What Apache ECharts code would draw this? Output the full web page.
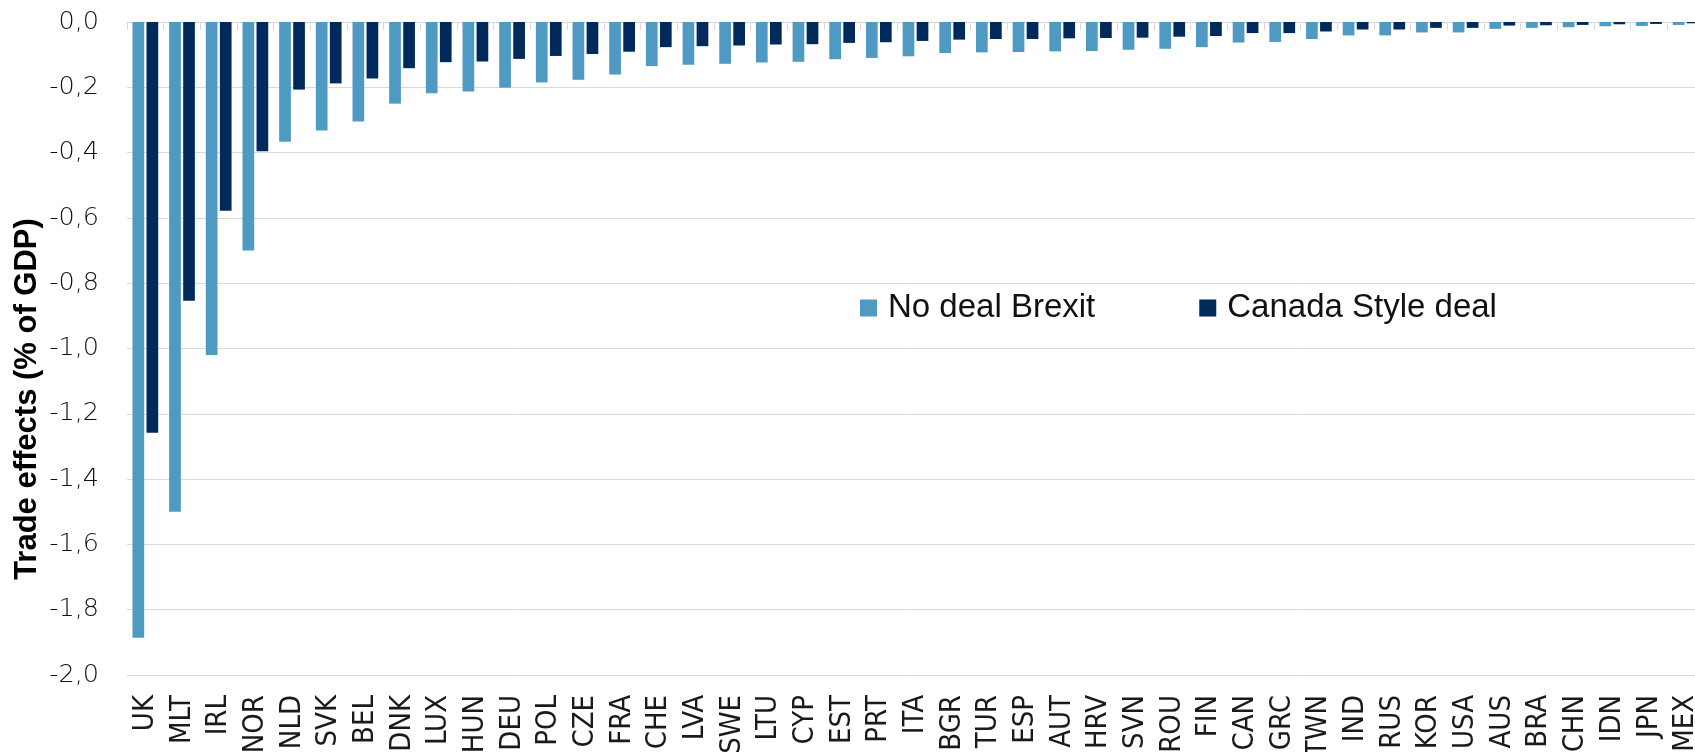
<!DOCTYPE html>
<html>
<head>
<meta charset="utf-8">
<script src="https://cdn.jsdelivr.net/npm/echarts@6/dist/echarts.min.js"></script>
<style>
html,body{margin:0;padding:0;background:#fff;}
#chart{width:1695px;height:752px;}
</style>
</head>
<body>
<div id="chart"></div>
<script>
const categories = ['UK','MLT','IRL','NOR','NLD','SVK','BEL','DNK','LUX','HUN','DEU','POL','CZE','FRA','CHE','LVA','SWE','LTU','CYP','EST','PRT','ITA','BGR','TUR','ESP','AUT','HRV','SVN','ROU','FIN','CAN','GRC','TWN','IND','RUS','KOR','USA','AUS','BRA','CHN','IDN','JPN','MEX'];
const noDealBrexit = [-1.886,-1.50,-1.02,-0.70,-0.367,-0.332,-0.305,-0.250,-0.218,-0.213,-0.201,-0.185,-0.177,-0.161,-0.135,-0.131,-0.128,-0.124,-0.122,-0.114,-0.110,-0.105,-0.095,-0.093,-0.092,-0.090,-0.089,-0.085,-0.082,-0.077,-0.063,-0.061,-0.052,-0.041,-0.041,-0.032,-0.032,-0.021,-0.018,-0.016,-0.013,-0.012,-0.009];
const canadaStyleDeal = [-1.258,-0.854,-0.578,-0.396,-0.207,-0.188,-0.173,-0.1415,-0.123,-0.121,-0.113,-0.104,-0.098,-0.091,-0.077,-0.074,-0.072,-0.069,-0.068,-0.064,-0.062,-0.058,-0.054,-0.052,-0.052,-0.050,-0.049,-0.048,-0.045,-0.043,-0.034,-0.034,-0.029,-0.023,-0.023,-0.018,-0.018,-0.011,-0.010,-0.009,-0.007,-0.006,-0.004];
const seriesNames = ['No deal Brexit','Canada Style deal'];
const yTitle = 'Trade effects (% of GDP)';
const yMin = -2.0, yMax = 0.0, yStep = 0.2;

const chart = echarts.init(document.getElementById('chart'), null, {renderer:'canvas'});
const gridColor = '#d9d9d9';
const labelFont = "'Liberation Sans Narrow','DejaVu Sans Condensed','Liberation Sans',sans-serif";
chart.setOption({
  animation:false,
  backgroundColor:'#ffffff',
  grid:{left:127, right:-9, top:22, bottom:77, containLabel:false, outerBoundsMode:'none'},
  legend:{
    left:860, top:290, itemWidth:17, itemHeight:17, itemGap:104, padding:0,
    icon:'rect',
    textStyle:{fontFamily:"'Liberation Sans',Arial,sans-serif", fontSize:33, color:'#111', lineHeight:36, padding:[0,0,0,6]},
    data:seriesNames
  },
  xAxis:[
    {type:'category', data:categories, position:'bottom',
     axisLine:{show:false, onZero:false}, axisTick:{show:false},
     axisLabel:{rotate:90, margin:20, interval:0, fontFamily:labelFont, fontSize:29, color:'#1a1a1a'}},
    {type:'category', data:categories, position:'top',
     axisLine:{show:true, onZero:false, lineStyle:{color:gridColor, width:1}},
     axisTick:{show:true, inside:true, length:8, lineStyle:{color:gridColor}},
     axisLabel:{show:false}}
  ],
  yAxis:{
    type:'value', min:yMin, max:yMax, interval:yStep,
    axisLine:{show:false}, axisTick:{show:false},
    splitLine:{lineStyle:{color:gridColor, width:1}},
    axisLabel:{margin:28, fontFamily:"'DejaVu Sans',sans-serif", fontWeight:200, fontSize:25.5, color:'#111',
      formatter:v=>v.toFixed(1).replace('.',',').replace('-0,0','0,0')}
  },
  graphic:[{
    type:'text', x:27, y:399, rotation:Math.PI/2,
    style:{text:yTitle, fontFamily:"'Liberation Sans',Arial,sans-serif", fontWeight:'bold', fontSize:31, fill:'#000', align:'center', verticalAlign:'middle'}
  }],
  series:[
    {name:seriesNames[0], type:'bar', xAxisIndex:0, data:noDealBrexit, barWidth:11.7, barGap:'20%',
     itemStyle:{color:'#4e9ac2'}},
    {name:seriesNames[1], type:'bar', xAxisIndex:0, data:canadaStyleDeal, barWidth:11.7, barGap:'20%',
     itemStyle:{color:'#002a5c'}}
  ]
});
</script>
</body>
</html>
